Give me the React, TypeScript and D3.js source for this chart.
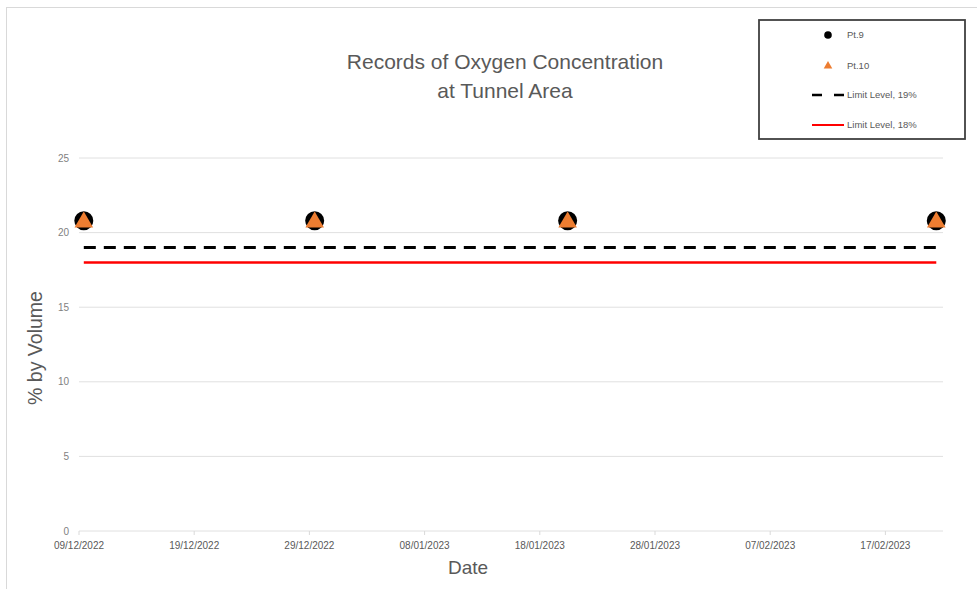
import React from "react";
import * as d3 from "d3";

const pt9Dates = ["2022-12-09T10:00Z", "2022-12-29T11:00Z", "2023-01-20T10:00Z", "2023-02-21T10:00Z"];
const pt9Values = [20.8, 20.8, 20.8, 20.8];
const pt10Dates = ["2022-12-09T10:00Z", "2022-12-29T11:00Z", "2023-01-20T10:00Z", "2023-02-21T10:00Z"];
const pt10Values = [20.8, 20.8, 20.8, 20.8];
const limit19Values = [19, 19, 19, 19];
const limit18Values = [18, 18, 18, 18];
const xTickLabels = ["09/12/2022", "19/12/2022", "29/12/2022", "08/01/2023", "18/01/2023", "28/01/2023", "07/02/2023", "17/02/2023"];
const yTicks = [0, 5, 10, 15, 20, 25];
const legendLabels = ["Pt.9", "Pt.10", "Limit Level, 19%", "Limit Level, 18%"];
const titleLines = ["Records of Oxygen Concentration", "at Tunnel Area"];

const W = 977;
const H = 589;
const FONT = "'Liberation Sans', Arial, sans-serif";
const GRAY = "#595959";

const parseTick = (s: string) => {
  const [d, m, y] = s.split("/").map(Number);
  return new Date(Date.UTC(y, m - 1, d));
};

export default function App() {
  const x = d3
    .scaleUtc()
    .domain([new Date(Date.UTC(2022, 11, 9)), new Date(Date.UTC(2023, 1, 22))])
    .range([79, 943]);
  const y = d3.scaleLinear().domain([0, 25]).range([531, 158]);

  const p9 = pt9Dates.map((d, i) => ({ x: new Date(d), y: pt9Values[i] }));
  const p10 = pt10Dates.map((d, i) => ({ x: new Date(d), y: pt10Values[i] }));
  const l19 = pt9Dates.map((d, i) => ({ x: new Date(d), y: limit19Values[i] }));
  const l18 = pt9Dates.map((d, i) => ({ x: new Date(d), y: limit18Values[i] }));

  const line = d3
    .line<{ x: Date; y: number }>()
    .x((d) => x(d.x))
    .y((d) => y(d.y));

  const tri = d3.symbol().type(d3.symbolTriangle).size(150)();
  const triSmall = d3.symbol().type(d3.symbolTriangle).size(32)();

  const legendX = 812;
  const legendRows = [35, 66, 95, 125];

  return (
    <svg
      width={W}
      height={H}
      style={{ position: "absolute", left: 0, top: 0, background: "#fff" }}
      fontFamily={FONT}
    >
      <rect x={0} y={0} width={W} height={H} fill="#fff" />
      <rect x={6.5} y={7.5} width={W + 10} height={H + 10} fill="none" stroke="#d9d9d9" strokeWidth={1} />

      {titleLines.map((t, i) => (
        <text key={t} x={505} y={69 + i * 29} textAnchor="middle" fontSize={21} fill={GRAY}>
          {t}
        </text>
      ))}

      {yTicks.map((t) => (
        <g key={t}>
          <line x1={79} x2={943} y1={y(t)} y2={y(t)} stroke="#e0e0e0" strokeWidth={1} />
          <text x={69} y={y(t)} dy="0.35em" textAnchor="end" fontSize={10} fill="#7f7f7f">
            {t}
          </text>
        </g>
      ))}

      {xTickLabels.map((s) => {
        const xx = x(parseTick(s));
        return (
          <g key={s}>
            <line x1={xx} x2={xx} y1={531} y2={535} stroke="#d9d9d9" />
            <text x={xx} y={549} textAnchor="middle" fontSize={10} fill={GRAY}>
              {s}
            </text>
          </g>
        );
      })}

      <text x={468} y={574} textAnchor="middle" fontSize={19} fill={GRAY}>
        Date
      </text>
      <text transform={`translate(42,348) rotate(-90)`} textAnchor="middle" fontSize={19.5} fill={GRAY}>
        % by Volume
      </text>

      <path d={line(l19) || ""} fill="none" stroke="#000" strokeWidth={3} strokeDasharray="12,8" />
      <path d={line(l18) || ""} fill="none" stroke="#ff0000" strokeWidth={2.5} />

      {p9.map((d, i) => (
        <circle key={"a" + i} cx={x(d.x)} cy={y(d.y)} r={9.5} fill="#000" />
      ))}
      {p10.map((d, i) => (
        <path key={"b" + i} d={tri || ""} transform={`translate(${x(d.x)},${y(d.y) + 1.5})`} fill="#ED7D31" />
      ))}

      <rect x={759} y={20} width={206} height={119} fill="#fff" stroke="#404040" strokeWidth={1.8} />
      <circle cx={828} cy={legendRows[0]} r={3.8} fill="#000" />
      <path d={triSmall || ""} transform={`translate(828,${legendRows[1]})`} fill="#ED7D31" />
      <line x1={legendX} x2={844} y1={legendRows[2]} y2={legendRows[2]} stroke="#000" strokeWidth={2.5} strokeDasharray="10,12" />
      <line x1={legendX} x2={844} y1={legendRows[3]} y2={legendRows[3]} stroke="#ff0000" strokeWidth={2} />
      {legendLabels.map((l, i) => (
        <text key={l} x={847} y={legendRows[i]} dy="0.35em" fontSize={9.5} fill={GRAY}>
          {l}
        </text>
      ))}
    </svg>
  );
}
